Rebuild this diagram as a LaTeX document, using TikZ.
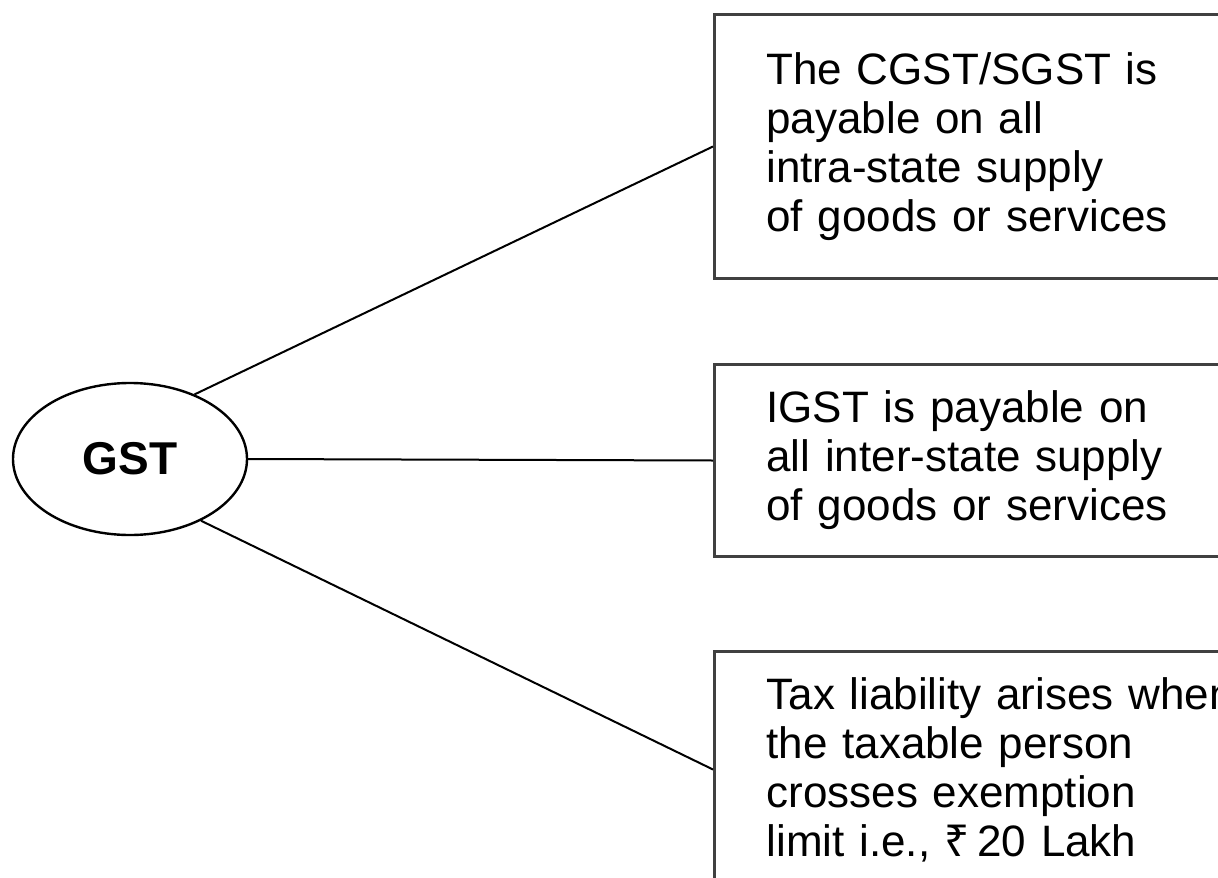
\documentclass[tikz,border=0pt]{standalone}
\usepackage{fontspec}
\setmainfont{Liberation Sans}
\newfontfamily\rupeefont{Noto Sans}
\usetikzlibrary{shapes.geometric}

\begin{document}
\begin{tikzpicture}[x=0.5pt,y=-0.5pt]
        \tikzset{taxbox/.style={draw=black!75,line width=1.5pt,rectangle,
            anchor=north west,minimum width=292pt,text width=240pt,
            inner xsep=26pt,inner ysep=0pt,align=left,
            font=\fontsize{22}{24.5}\selectfont},
          hub/.style={draw,ellipse,line width=1.2pt,minimum width=117pt,
            minimum height=76pt,inner sep=0pt,font=\fontsize{23}{26}\selectfont\bfseries},
          link/.style={draw,line width=1pt}}
        \clip (0,0) rectangle (1218,877);
        \fill[white] (0,0) rectangle (1218,877);
        \node[hub] (gst) at (130,459) {GST};
        \node[taxbox,minimum height=132pt] (intra) at (713,13)
          {The CGST/SGST is\\payable on all\\intra-state supply\\of goods or services};
        \node[taxbox,minimum height=96pt] (inter) at (713,363)
          {IGST is payable on\\all inter-state supply\\of goods or services};
        \node[taxbox,minimum height=118pt] (limit) at (713,650)
          {Tax liability arises when\\the taxable person\\crosses exemption\\limit i.e., {\rupeefont ₹}\,20 Lakh};
        \path[link] (gst.45) -- (intra.west);
        \path[link] (gst.east) -- (inter.west);
        \path[link] (gst.-41) -- (limit.west);
      \end{tikzpicture}
\end{document}
